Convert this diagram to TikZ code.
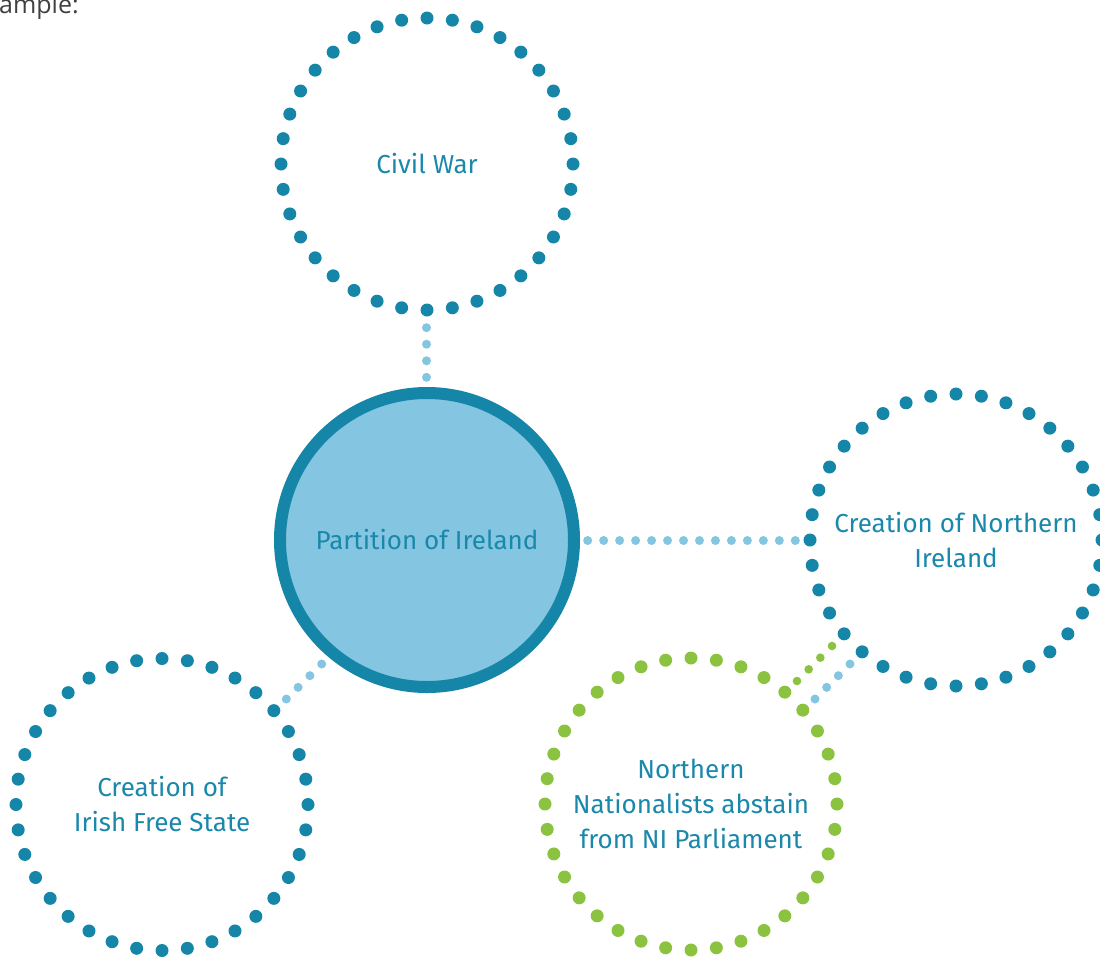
\documentclass[tikz,border=0pt]{standalone}
\usepackage{fontspec}
\setmainfont{Fira Sans}
\newfontfamily\topfont{Open Sans}
\usetikzlibrary{calc}
\definecolor{teal}{HTML}{1585A8}
\definecolor{txt}{HTML}{1A88AB}
\definecolor{lblue}{HTML}{84C5E1}
\definecolor{lgreen}{HTML}{8BC341}
\tikzset{
  ring/.style={circle, draw=none, minimum size=292pt, inner sep=0pt, align=center,
    text=txt, font=\fontsize{26}{35}\selectfont},
  hub/.style={circle, draw=teal, line width=12pt, fill=lblue, minimum size=294pt,
    inner sep=0pt, text=txt, font=\fontsize{26}{35}\selectfont},
}
\begin{document}
\begin{tikzpicture}[x=1pt,y=-1pt]
\useasboundingbox (0,0) rectangle (1100,956);
% top cut text
\node[anchor=base west, inner sep=0pt, font=\topfont\fontsize{25}{30}\selectfont, text=black!75] (ex) at (-1,13) {ample:};
% nodes
\node[hub] (part) at (427,540) {Partition of Ireland};
\node[ring] (cw) at (427,164) {Civil War};
\node[ring] (ni) at (956,540) {Creation of Northern\\Ireland};
\node[ring] (fs) at (162,804.5) {Creation of\\Irish Free State};
\node[ring] (nn) at (691,804) {Northern\\Nationalists abstain\\from NI Parliament};
% dotted rings
\foreach \n in {cw,ni,fs} {
  \foreach \k in {0,...,35} {
    \fill[teal] ($(\n.center)+(90+\k*10:146pt)$) circle (6.5pt);
  }
}
\foreach \k in {0,...,35} {
  \fill[lgreen] ($(nn.center)+(90+\k*10:146pt)$) circle (6.5pt);
}
% connector end points
\coordinate (c1a) at (426.5,327.7);
\coordinate (c1b) at (426.5,377.3);
\coordinate (c2a) at (587.7,540.5);
\coordinate (c2b) at (795.3,540.5);
\coordinate (c3a) at (321.7,664);
\coordinate (c3b) at (286.3,699);
\coordinate (c4a) at (832,646);
\coordinate (c4b) at (797,681);
\coordinate (c5a) at (850,664);
\coordinate (c5b) at (815,699);
% connectors
\foreach \i in {0,...,3} {
  \fill[lblue] ($(c1a)!\i/3!(c1b)$) circle (4.5pt);
  \fill[lblue] ($(c3a)!\i/3!(c3b)$) circle (4.5pt);
  \fill[lgreen] ($(c4a)!\i/3!(c4b)$) circle (4.3pt);
  \fill[lblue] ($(c5a)!\i/3!(c5b)$) circle (4.5pt);
}
\foreach \i in {0,...,13} {
  \fill[lblue] ($(c2a)!\i/13!(c2b)$) circle (4.5pt);
}
\end{tikzpicture}
\end{document}
